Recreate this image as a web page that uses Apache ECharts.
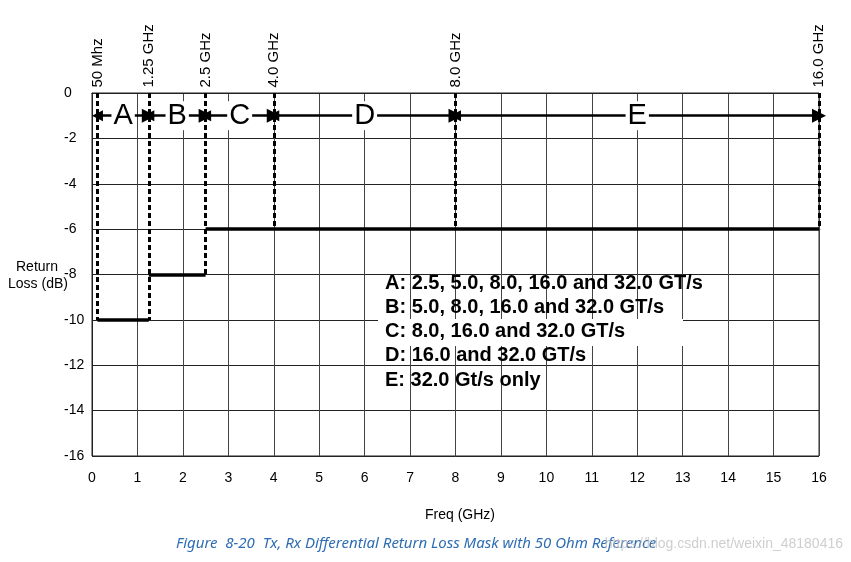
<!DOCTYPE html>
<html>
<head>
<meta charset="utf-8">
<script src="https://cdn.jsdelivr.net/npm/echarts@6/dist/echarts.min.js"></script>
<style>
html,body{margin:0;padding:0;background:#fff;}
#chart{width:851px;height:562px;}
</style>
</head>
<body>
<div id="chart"></div>
<script>
// ---- data ----
const xTickMin = 0, xTickMax = 16, xTickStep = 1;
const yTickMin = -16, yTickMax = 0, yTickStep = 2;
const boundaryFreqs = [0.12, 1.25, 2.5, 4.0, 8.0, 16.0];
const boundaryLabels = ['50 Mhz', '1.25 GHz', '2.5 GHz', '4.0 GHz', '8.0 GHz', '16.0 GHz'];
const boundaryBottoms = [-10, -10, -8, -6, -6, -6];
const maskStart = [0.12, 1.25, 2.5];
const maskEnd = [1.25, 2.5, 16.0];
const maskLevel = [-10, -8, -6];
const regionNames = ['A', 'B', 'C', 'D', 'E'];
const arrowLevel = -1;
const noteLines = [
  'A: 2.5, 5.0, 8.0, 16.0 and 32.0 GT/s',
  'B: 5.0, 8.0, 16.0 and 32.0 GT/s',
  'C: 8.0, 16.0 and 32.0 GT/s',
  'D: 16.0 and 32.0 GT/s',
  'E: 32.0 Gt/s only'
];
const xName = 'Freq (GHz)';
const yNameLines = ['Return', 'Loss (dB)'];
const caption = 'Figure  8-20  Tx, Rx Differential Return Loss Mask with 50 Ohm Reference';
const watermark = 'https://blog.csdn.net/weixin_48180416';

// ---- build ----
const FONT = '"Liberation Sans", Arial, sans-serif';
const maskData = maskLevel.map((v, i) => ({coords: [[maskStart[i], v], [maskEnd[i], v]]}));
const boundaryData = boundaryFreqs.map((f, i) => ({coords: [[f, 0], [f, boundaryBottoms[i]]]}));
const arrowData = regionNames.map((n, i) => ({coords: [[boundaryFreqs[i], arrowLevel], [boundaryFreqs[i + 1], arrowLevel]]}));
const regionLabelData = regionNames.map((n, i) => ({value: [(boundaryFreqs[i] + boundaryFreqs[i + 1]) / 2, arrowLevel], name: n}));
const topLabelData = boundaryFreqs.map((f, i) => ({value: [f, 0], name: boundaryLabels[i]}));

const chart = echarts.init(document.getElementById('chart'), null, {renderer: 'canvas'});
const option = {
  backgroundColor: '#fff',
  animation: false,
  grid: {left: 92, right: 32, top: 93, bottom: 106, show: true, borderColor: '#222', borderWidth: 1},
  xAxis: {
    type: 'value', min: xTickMin, max: xTickMax, interval: xTickStep,
    axisLine: {show: true, lineStyle: {color: '#222', width: 1}},
    axisTick: {show: false},
    axisLabel: {color: '#000', fontSize: 14, fontFamily: FONT, margin: 15},
    splitLine: {show: true, lineStyle: {color: '#444', width: 1}}
  },
  yAxis: {
    type: 'value', min: yTickMin, max: yTickMax, interval: yTickStep,
    axisLine: {show: true, lineStyle: {color: '#222', width: 1}},
    axisTick: {show: false},
    axisLabel: {color: '#000', fontSize: 14, fontFamily: FONT, margin: 28, align: 'left'},
    splitLine: {show: true, lineStyle: {color: '#222', width: 1}}
  },
  series: [
    {
      type: 'lines', coordinateSystem: 'cartesian2d', clip: false, z: 3,
      lineStyle: {color: '#000', width: 3.5, opacity: 1},
      data: maskData
    },
    {
      type: 'lines', coordinateSystem: 'cartesian2d', clip: false, z: 4,
      lineStyle: {color: '#000', width: 3, type: [5, 3], opacity: 1},
      data: boundaryData
    },
    {
      type: 'lines', coordinateSystem: 'cartesian2d', clip: false, z: 5,
      symbol: ['triangle', 'triangle'], symbolSize: [11, 14],
      lineStyle: {color: '#000', width: 2.5, opacity: 1},
      data: arrowData
    },
    {
      type: 'scatter', z: 6, symbolSize: 1, itemStyle: {color: 'rgba(0,0,0,0)', opacity: 1},
      label: {
        show: true, position: 'inside', formatter: '{b}', color: '#000', opacity: 1,
        fontSize: 29, fontFamily: FONT, backgroundColor: '#fff', padding: [0, 2, 0, 2]
      },
      data: regionLabelData
    },
    {
      type: 'scatter', z: 6, symbolSize: 1, itemStyle: {color: 'rgba(0,0,0,0)', opacity: 1},
      label: {
        show: true, position: 'top', distance: 5, rotate: 90, align: 'left', verticalAlign: 'middle',
        formatter: '{b}', color: '#000', opacity: 1, fontSize: 15, fontFamily: FONT
      },
      data: topLabelData
    }
  ],
  graphic: [
    {type: 'rect', z: 10, shape: {x: 378, y: 319, width: 305, height: 27}, style: {fill: '#fff'}},
    ...noteLines.map((t, i) => ({
      type: 'text', z: 11, left: 385, top: 273 + i * 24.25,
      style: {text: t, fill: '#000', font: 'bold 20px ' + FONT}
    })),
    {type: 'text', z: 11, style: {text: yNameLines[0], x: 37, y: 267, fill: '#000', font: '14px ' + FONT, textAlign: 'center', textVerticalAlign: 'middle'}},
    {type: 'text', z: 11, style: {text: yNameLines[1], x: 38, y: 284, fill: '#000', font: '14px ' + FONT, textAlign: 'center', textVerticalAlign: 'middle'}},
    {type: 'text', z: 11, style: {text: xName, x: 460, y: 515, fill: '#000', font: '14px ' + FONT, textAlign: 'center', textVerticalAlign: 'middle'}},
    {type: 'text', z: 11, style: {text: caption, x: 176, y: 544, fill: '#2e6db4', font: 'italic 15px "Noto Sans", "Open Sans", sans-serif', textVerticalAlign: 'middle'}},
    {type: 'text', z: 12, style: {text: watermark, x: 843, y: 544, fill: 'rgba(190,190,190,0.75)', font: '14px ' + FONT, textAlign: 'right', textVerticalAlign: 'middle'}}
  ]
};
chart.setOption(option);
</script>
</body>
</html>
